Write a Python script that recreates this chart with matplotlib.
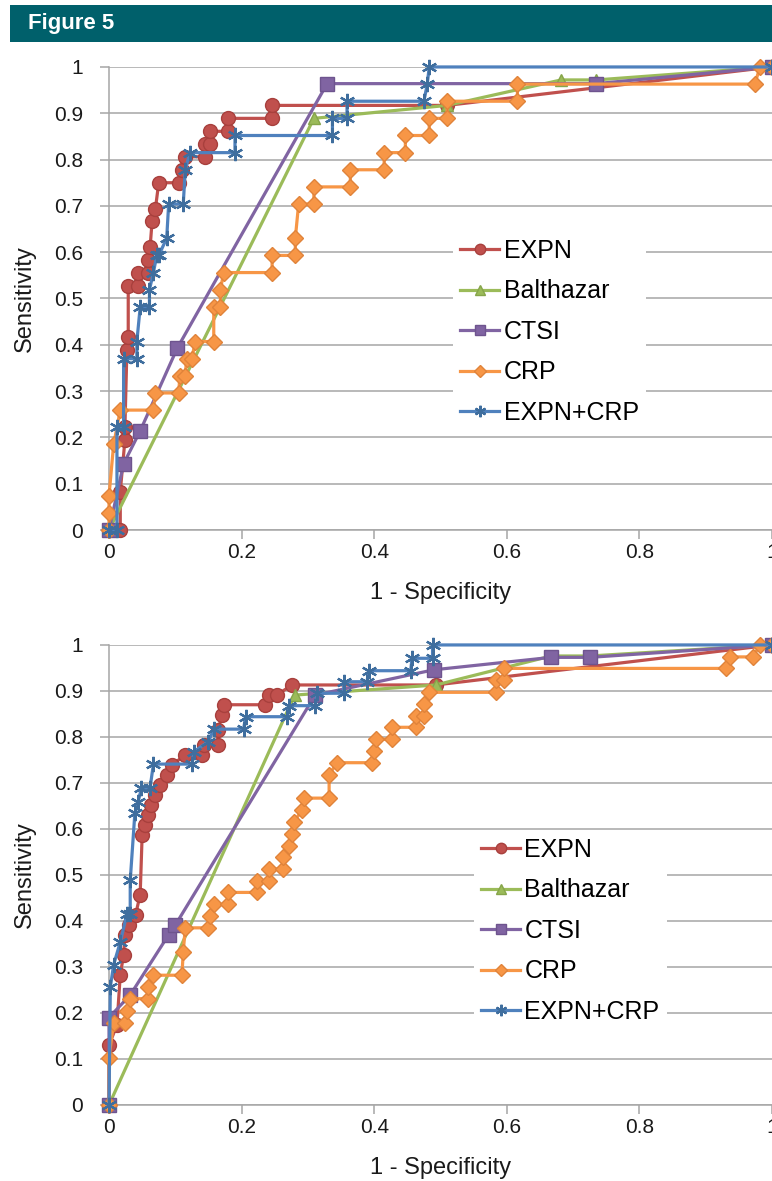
import matplotlib
matplotlib.use('Agg')
import matplotlib.pyplot as plt
from matplotlib.patches import Rectangle

plt.rcParams['font.family'] = ['Liberation Sans', 'DejaVu Sans']

# ---- top panel data ----
top_expn_x = [0, 0.017, 0.017, 0.024, 0.024, 0.027, 0.029, 0.029, 0.044, 0.044, 0.059, 0.059,
              0.062, 0.065, 0.070, 0.075, 0.105, 0.110, 0.115, 0.145, 0.145, 0.153, 0.153,
              0.180, 0.180, 0.246, 0.246, 0.510, 1.0]
top_expn_y = [0, 0, 0.083, 0.194, 0.222, 0.389, 0.417, 0.528, 0.528, 0.556, 0.556, 0.583,
              0.611, 0.667, 0.694, 0.750, 0.750, 0.778, 0.806, 0.806, 0.833, 0.833, 0.861,
              0.861, 0.889, 0.889, 0.917, 0.917, 1.0]

top_balt_x = [0, 0.309, 0.510, 0.682, 0.735, 1.0]
top_balt_y = [0, 0.889, 0.917, 0.972, 0.972, 1.0]

top_ctsi_x = [0, 0.022, 0.047, 0.103, 0.329, 0.735, 1.0]
top_ctsi_y = [0, 0.143, 0.214, 0.393, 0.964, 0.964, 1.0]

top_crp_x = [0, 0, 0, 0.007, 0.017, 0.067, 0.070, 0.105, 0.107, 0.115, 0.117, 0.125, 0.130,
             0.158, 0.158, 0.168, 0.168, 0.173, 0.246, 0.246, 0.281, 0.281, 0.286, 0.309,
             0.309, 0.364, 0.364, 0.415, 0.415, 0.447, 0.447, 0.483, 0.483, 0.510, 0.510,
             0.616, 0.616, 0.974, 0.982, 1.0]
top_crp_y = [0, 0.037, 0.074, 0.185, 0.259, 0.259, 0.296, 0.296, 0.333, 0.333, 0.370, 0.370,
             0.407, 0.407, 0.481, 0.481, 0.519, 0.556, 0.556, 0.593, 0.593, 0.630, 0.704,
             0.704, 0.741, 0.741, 0.778, 0.778, 0.815, 0.815, 0.852, 0.852, 0.889, 0.889,
             0.926, 0.926, 0.963, 0.963, 1.0, 1.0]

top_comb_x = [0, 0.012, 0.012, 0.022, 0.022, 0.042, 0.042, 0.047, 0.061, 0.061, 0.067, 0.072,
              0.075, 0.087, 0.090, 0.112, 0.115, 0.122, 0.190, 0.190, 0.337, 0.337, 0.359,
              0.359, 0.475, 0.480, 0.483, 1.0]
top_comb_y = [0, 0, 0.222, 0.222, 0.370, 0.370, 0.407, 0.481, 0.481, 0.519, 0.556, 0.593,
              0.593, 0.630, 0.704, 0.704, 0.778, 0.815, 0.815, 0.852, 0.852, 0.889, 0.889,
              0.926, 0.926, 0.963, 1.0, 1.0]

# ---- bottom panel data ----
bot_expn_x = [0, 0, 0.012, 0.017, 0.022, 0.024, 0.030, 0.040, 0.047, 0.050, 0.054, 0.059,
              0.064, 0.070, 0.077, 0.087, 0.095, 0.115, 0.140, 0.143, 0.165, 0.165, 0.170,
              0.173, 0.236, 0.241, 0.253, 0.276, 0.493, 1.0]
bot_expn_y = [0, 0.130, 0.174, 0.283, 0.326, 0.370, 0.391, 0.413, 0.457, 0.587, 0.609, 0.630,
              0.652, 0.674, 0.696, 0.717, 0.739, 0.761, 0.761, 0.783, 0.783, 0.815, 0.848,
              0.870, 0.870, 0.891, 0.891, 0.913, 0.913, 1.0]

bot_balt_x = [0, 0.280, 0.493, 0.667, 0.725, 1.0]
bot_balt_y = [0, 0.891, 0.913, 0.976, 0.976, 1.0]

bot_ctsi_x = [0, 0, 0.032, 0.090, 0.100, 0.311, 0.490, 0.667, 0.725, 1.0]
bot_ctsi_y = [0, 0.190, 0.239, 0.370, 0.391, 0.891, 0.946, 0.973, 0.973, 1.0]

bot_crp_x = [0, 0, 0.007, 0.024, 0.027, 0.032, 0.059, 0.059, 0.067, 0.110, 0.112, 0.115,
             0.150, 0.153, 0.158, 0.180, 0.180, 0.223, 0.223, 0.241, 0.241, 0.263, 0.263,
             0.271, 0.276, 0.279, 0.291, 0.294, 0.332, 0.332, 0.344, 0.397, 0.400, 0.402,
             0.427, 0.427, 0.463, 0.463, 0.475, 0.475, 0.482, 0.583, 0.583, 0.596, 0.596,
             0.931, 0.936, 0.971, 0.982, 1.0]
bot_crp_y = [0, 0.103, 0.179, 0.179, 0.205, 0.231, 0.231, 0.256, 0.282, 0.282, 0.333, 0.385,
             0.385, 0.410, 0.436, 0.436, 0.462, 0.462, 0.487, 0.487, 0.513, 0.513, 0.538,
             0.564, 0.590, 0.615, 0.641, 0.667, 0.667, 0.718, 0.744, 0.744, 0.769, 0.795,
             0.795, 0.821, 0.821, 0.846, 0.846, 0.872, 0.897, 0.897, 0.923, 0.923, 0.949,
             0.949, 0.974, 0.974, 1.0, 1.0]

bot_comb_x = [0, 0.002, 0.007, 0.017, 0.027, 0.032, 0.032, 0.039, 0.044, 0.049, 0.062, 0.067,
              0.125, 0.128, 0.150, 0.158, 0.203, 0.206, 0.269, 0.271, 0.311, 0.314, 0.354,
              0.354, 0.389, 0.392, 0.455, 0.457, 0.488, 0.488, 1.0]
bot_comb_y = [0, 0.256, 0.305, 0.354, 0.415, 0.415, 0.488, 0.634, 0.659, 0.690, 0.690, 0.741,
              0.741, 0.768, 0.790, 0.817, 0.817, 0.844, 0.844, 0.868, 0.868, 0.895, 0.895,
              0.920, 0.920, 0.944, 0.944, 0.971, 0.971, 1.0, 1.0]

labels = ['EXPN', 'Balthazar', 'CTSI', 'CRP', 'EXPN+CRP']
ticks_y = [0, 0.1, 0.2, 0.3, 0.4, 0.5, 0.6, 0.7, 0.8, 0.9, 1]
ticks_x = [0, 0.2, 0.4, 0.6, 0.8, 1]

styles = [
    dict(color='#C0504D', marker='o', ms=10, mfc='#C0504D', mec='#A8403D'),
    dict(color='#9BBB59', marker='^', ms=9, mfc='#9BBB59', mec='#86A54A'),
    dict(color='#8064A2', marker='s', ms=10, mfc='#8064A2', mec='#6E548E'),
    dict(color='#F79646', marker='D', ms=8, mfc='#F79646', mec='#E0833A'),
    dict(color='#4F81BD', marker=(6, 2, 0), ms=11, mfc='#4F81BD', mec='#3F6E9E', mew=1.6),
]

fig = plt.figure(figsize=(7.72, 11.81), dpi=100)

# header bar
fig.patches.append(Rectangle((10 / 772, 1 - 42 / 1181), 1 - 10 / 772, 37 / 1181,
                             transform=fig.transFigure, facecolor='#00606B',
                             edgecolor='none'))
fig.text(28 / 772, 1 - 24 / 1181, 'Figure 5', color='white', fontsize=16,
         fontweight='bold', va='center', ha='left')

grey = '#A6A6A6'


def draw(ax, series, leg_anchor):
    for (x, y), lab, st in zip(series, labels, styles):
        ax.plot(x, y, lw=2.3, label=lab, zorder=3, clip_on=False, **st)
    ax.set_xlim(0, 1)
    ax.set_ylim(0, 1)
    ax.set_yticks(ticks_y)
    ax.set_yticklabels(['0', '0.1', '0.2', '0.3', '0.4', '0.5', '0.6', '0.7', '0.8', '0.9', '1'])
    ax.set_xticks(ticks_x)
    ax.set_xticklabels(['0', '0.2', '0.4', '0.6', '0.8', '1'])
    ax.grid(axis='y', color=grey, lw=1.1)
    ax.set_axisbelow(True)
    for s in ['top', 'right']:
        ax.spines[s].set_visible(False)
    for s in ['left', 'bottom']:
        ax.spines[s].set_color(grey)
        ax.spines[s].set_linewidth(1.1)
    ax.tick_params(axis='both', colors=grey, labelcolor='#1a1a1a', labelsize=15,
                   length=6.5, width=1.1)
    ax.tick_params(axis='y', pad=12)
    ax.tick_params(axis='x', pad=3)
    ax.set_xlabel('1 - Specificity', fontsize=17, labelpad=14, color='#1a1a1a')
    ax.set_ylabel('Sensitivity', fontsize=17, labelpad=13, color='#1a1a1a')
    leg = ax.legend(loc='upper left', bbox_to_anchor=leg_anchor, frameon=True,
                    fontsize=18, labelspacing=0.66, handlelength=1.55,
                    handletextpad=0.18, borderpad=0.3, borderaxespad=0,
                    markerscale=0.75)
    leg.get_frame().set_facecolor('white')
    leg.get_frame().set_edgecolor('none')
    leg.get_frame().set_alpha(1)
    leg.set_zorder(2)


ax1 = fig.add_axes([0.1412, 0.5512, 0.8588, 0.3921])
draw(ax1, [(top_expn_x, top_expn_y), (top_balt_x, top_balt_y), (top_ctsi_x, top_ctsi_y),
           (top_crp_x, top_crp_y), (top_comb_x, top_comb_y)], (0.5185, 0.645))

ax2 = fig.add_axes([0.1412, 0.0644, 0.8588, 0.3895])
draw(ax2, [(bot_expn_x, bot_expn_y), (bot_balt_x, bot_balt_y), (bot_ctsi_x, bot_ctsi_y),
           (bot_crp_x, bot_crp_y), (bot_comb_x, bot_comb_y)], (0.550, 0.597))

fig.savefig('out.png', dpi=100)
